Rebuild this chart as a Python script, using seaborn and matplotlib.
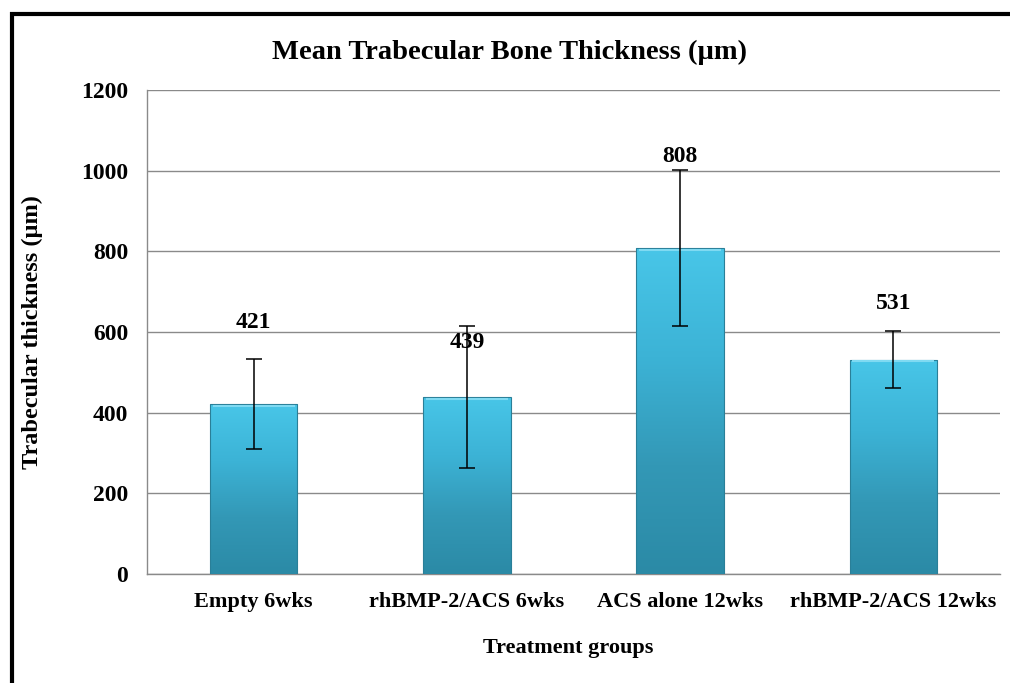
import numpy as np
import pandas as pd
import matplotlib
matplotlib.use("Agg")
import matplotlib.pyplot as plt
from matplotlib.lines import Line2D
from matplotlib.colors import LinearSegmentedColormap
import seaborn as sns

# Data
groups = ["Empty 6wks", "rhBMP-2/ACS 6wks", "ACS alone 12wks", "rhBMP-2/ACS 12wks"]
mean_thickness = [421, 439, 808, 531]
sd_thickness = [112, 175, 193, 71]
y_ticks = [0, 200, 400, 600, 800, 1000, 1200]

# Vertical lift of each value label above its bar top, in pixels
label_lift = [82, 54, 92, 56]

sns.set_theme(style="white")
plt.rcParams["font.family"] = ["Liberation Serif", "DejaVu Serif"]
plt.rcParams["font.weight"] = "bold"
plt.rcParams["text.color"] = "black"
plt.rcParams["axes.labelcolor"] = "black"

W, H = 1010, 683
fig = plt.figure(figsize=(W / 100, H / 100), dpi=100)
ax = fig.add_axes([147 / W, 1 - 574 / H, (1000 - 147) / W, (574 - 90) / H])

df = pd.DataFrame({"group": groups, "thickness": mean_thickness})
sns.barplot(data=df, x="group", y="thickness", order=groups, color="#38b6d8",
            width=0.41, ax=ax, errorbar=None, saturation=1, zorder=3)

ax.set_ylim(0, 1200)
ax.set_xlim(-0.5, len(groups) - 0.5)

# Vertical gradient fill for each bar
grad_cmap = LinearSegmentedColormap.from_list(
    "bar", ["#2b8aa6", "#3398b6", "#3cb3d6", "#48c6e8"])
grad = np.linspace(0, 1, 256).reshape(-1, 1)
for patch in ax.patches:
    x0, y0 = patch.get_x(), patch.get_y()
    w, h = patch.get_width(), patch.get_height()
    im = ax.imshow(grad, cmap=grad_cmap, origin="lower", aspect="auto",
                   extent=(x0, x0 + w, y0, y0 + h), zorder=3.1)
    im.set_clip_path(patch)
    patch.set_facecolor("none")
    patch.set_edgecolor("#2a7f98")
    patch.set_linewidth(0.8)
    patch.set_zorder(3.2)
    # lighter band along the top edge
    ax.plot([x0 + w * 0.03, x0 + w * 0.97], [y0 + h - 4, y0 + h - 4],
            color="#7fdaf2", lw=1.5, zorder=3.3, solid_capstyle="butt")

ax.set_ylim(0, 1200)
ax.set_xlim(-0.5, len(groups) - 0.5)

# Error bars
xpos = np.arange(len(groups))
ax.errorbar(xpos, mean_thickness, yerr=sd_thickness, fmt="none",
            ecolor="black", elinewidth=1.1, capsize=5.5, capthick=1.1, zorder=4)

# Value labels
for xi, val, lift in zip(xpos, mean_thickness, label_lift):
    ax.annotate(f"{val}", xy=(xi, val), xytext=(0, lift * 0.72),
                textcoords="offset points", ha="center", va="center",
                fontsize=17, fontweight="bold", color="black", zorder=5)

# Axes styling
ax.set_yticks(y_ticks)
ax.set_yticklabels([str(t) for t in y_ticks])
ax.yaxis.grid(True, color="#8a8a8a", linewidth=1.0, zorder=0)
ax.xaxis.grid(False)
ax.set_axisbelow(True)
for side in ["top", "right"]:
    ax.spines[side].set_visible(False)
for side in ["left", "bottom"]:
    ax.spines[side].set_color("#8a8a8a")
    ax.spines[side].set_linewidth(1.0)
ax.tick_params(axis="both", length=0, colors="black")
ax.tick_params(axis="y", pad=13.5, labelsize=17)
ax.tick_params(axis="x", pad=13, labelsize=16)
for lbl in ax.get_xticklabels() + ax.get_yticklabels():
    lbl.set_fontweight("bold")
ax.set_xlabel("")
ax.set_ylabel("")

# Titles
fig.text(510 / W, 1 - 52 / H, "Mean Trabecular Bone Thickness (µm)",
         ha="center", va="center", fontsize=20.5, fontweight="bold")
fig.text(32 / W, 1 - 332 / H, "Trabecular thickness (µm)", rotation=90,
         ha="center", va="center", fontsize=17.5, fontweight="bold")
fig.text(568 / W, 1 - 648 / H, "Treatment groups",
         ha="center", va="center", fontsize=16, fontweight="bold")

# Frame lines along the left and top
fig.add_artist(Line2D([12 / W, 12 / W], [0, 1 - 12 / H], color="black",
                      lw=3.0, transform=fig.transFigure, solid_capstyle="butt"))
fig.add_artist(Line2D([10 / W, 1], [1 - 14 / H, 1 - 14 / H], color="black",
                      lw=3.0, transform=fig.transFigure, solid_capstyle="butt"))

fig.savefig("out.png", dpi=100, facecolor="white")
